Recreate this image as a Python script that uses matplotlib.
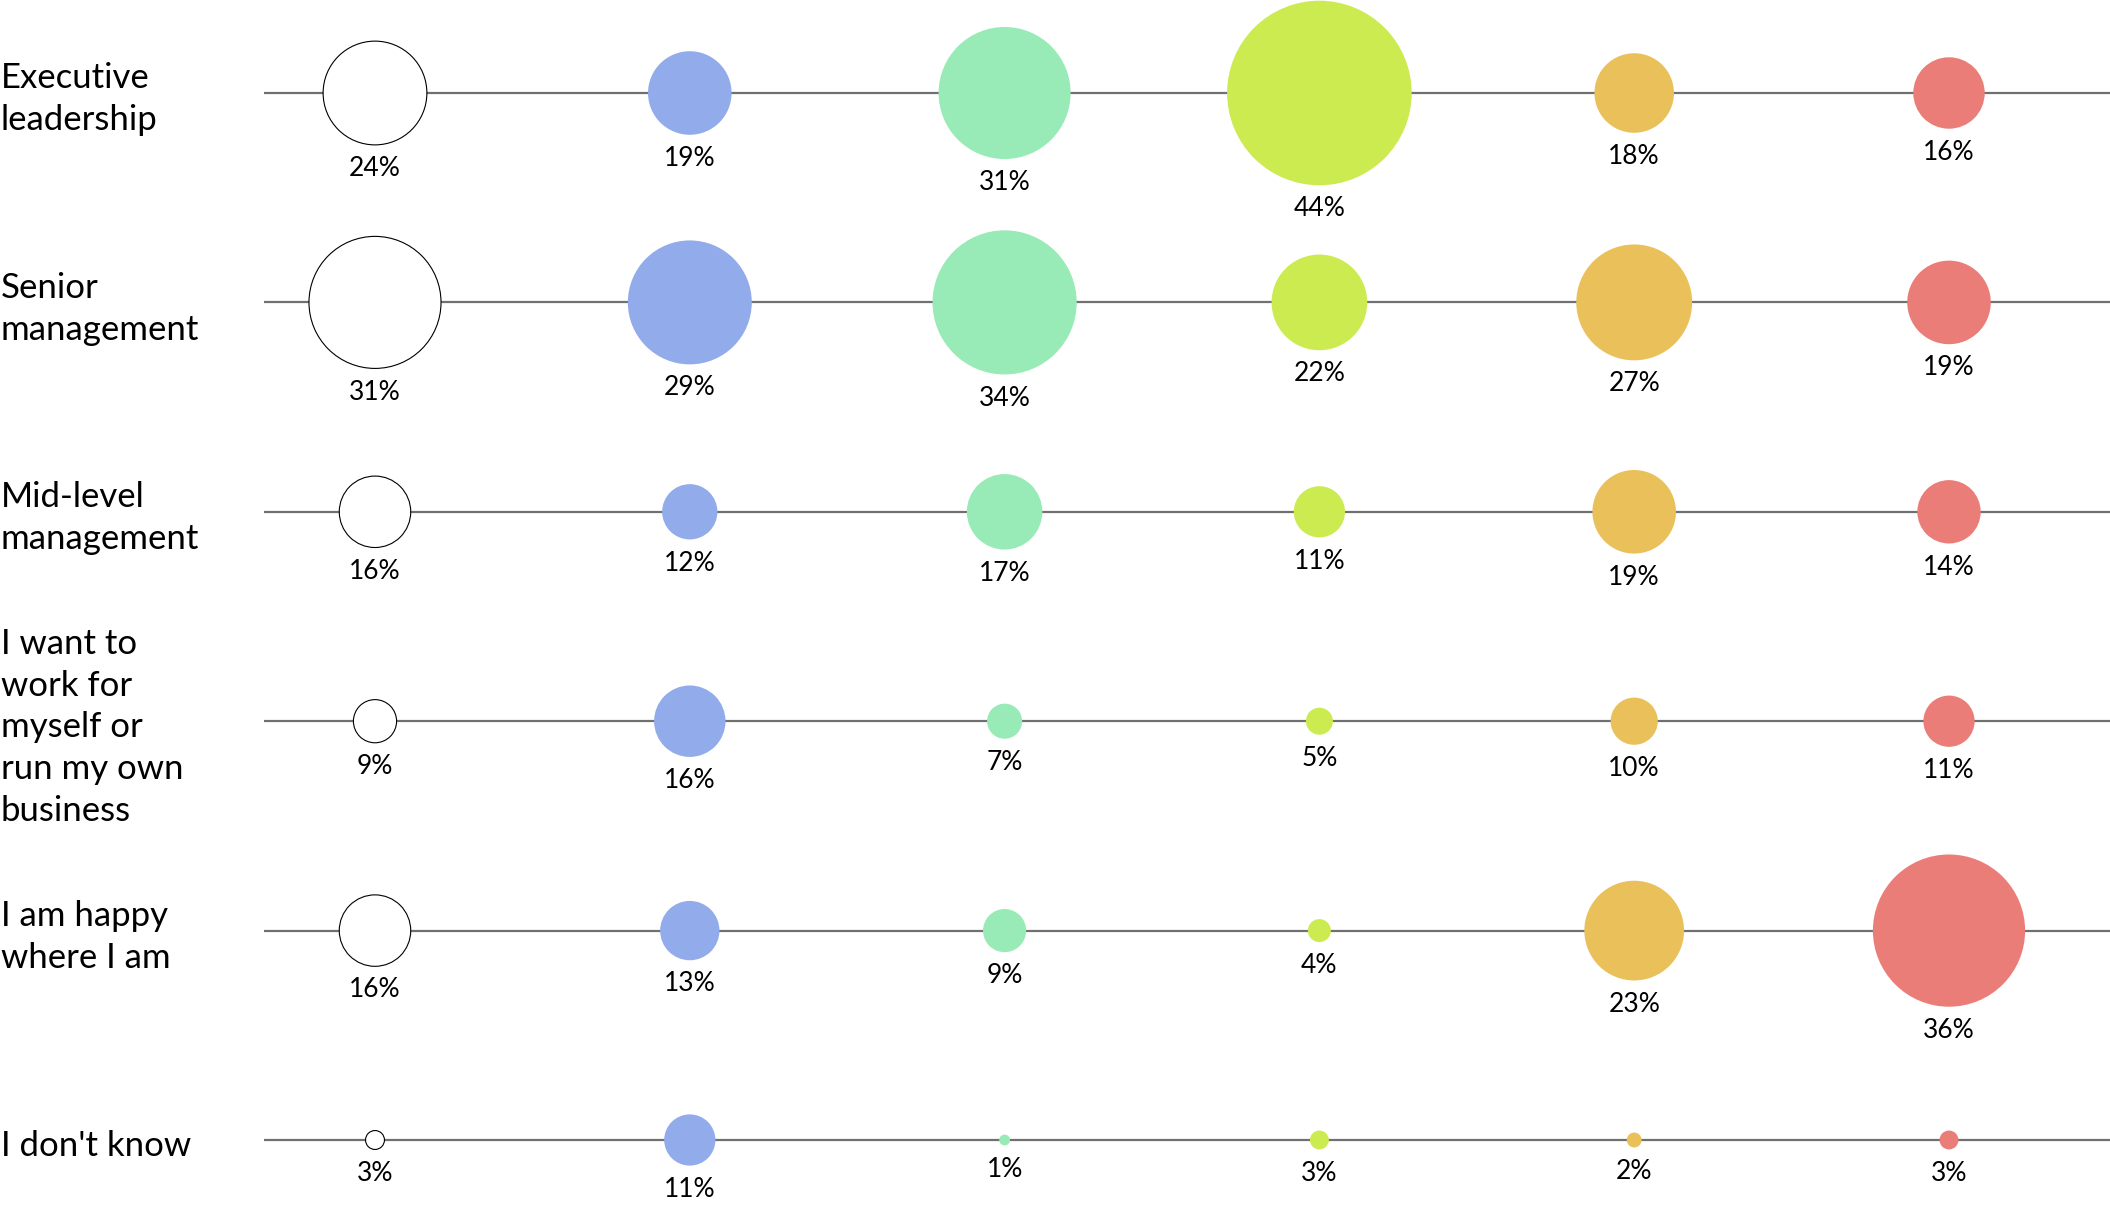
import matplotlib
matplotlib.use("Agg")
import matplotlib.pyplot as plt
import numpy as np

# rows (career aspiration) and one value per colour group, in percent
ROWS = [
    "Executive\nleadership",
    "Senior\nmanagement",
    "Mid-level\nmanagement",
    "I want to\nwork for\nmyself or\nrun my own\nbusiness",
    "I am happy\nwhere I am",
    "I don't know",
]
GROUP_COLORS = ["white", "#92abea", "#98ebb6", "#cbeb50", "#eac05a", "#eb7d78"]

white = [24, 31, 16, 9, 16, 3]
blue = [19, 29, 12, 16, 13, 11]
green = [31, 34, 17, 7, 9, 1]
lime = [44, 22, 11, 5, 4, 3]
orange = [18, 27, 19, 10, 23, 2]
red = [16, 19, 14, 11, 36, 3]
SERIES = [white, blue, green, lime, orange, red]

W, H, DPI = 2110, 1214, 100
COL0, COL_STEP = 375, 314.8   # pixel x of first column, spacing
ROW0, ROW_STEP = 93, 209.4    # pixel y of first row, spacing
LINE_X0 = 264
R_SLOPE, R_MIN = 2.02, 3.4    # bubble radius in px = R_MIN + R_SLOPE * percent

fig = plt.figure(figsize=(W / DPI, H / DPI), dpi=DPI)
ax = fig.add_axes([0, 0, 1, 1])
ax.set_xlim(-COL0 / COL_STEP, (W - COL0) / COL_STEP)
ax.set_ylim((H - ROW0) / ROW_STEP, -ROW0 / ROW_STEP)
ax.axis("off")

nrows = len(ROWS)
ys = np.arange(nrows)
ax.hlines(ys, (LINE_X0 - COL0) / COL_STEP, (W - COL0) / COL_STEP + 1,
          color="#707070", lw=1.6, zorder=1)

pt = 72 / DPI
for ci, (vals, col) in enumerate(zip(SERIES, GROUP_COLORS)):
    vals = np.array(vals, float)
    r_pt = (R_MIN + vals * R_SLOPE) * pt
    ax.scatter(np.full(nrows, ci), ys, s=(2 * r_pt) ** 2, color=col,
               edgecolor="black" if col == "white" else "none",
               linewidth=0.8, zorder=3)
    for y, v, r in zip(ys, vals, r_pt):
        ax.annotate(f"{int(v)}%", (ci, y), xytext=(0, -(r + 8)),
                    textcoords="offset points", ha="center", va="top",
                    fontsize=19, family="Lato", color="black")

for y, lab in zip(ys, ROWS):
    ax.text(-COL0 / COL_STEP + 0.003, y + 0.03, lab, ha="left", va="center",
            fontsize=25, family="Lato", linespacing=1.38, color="black")

fig.savefig("out.png", dpi=DPI)
